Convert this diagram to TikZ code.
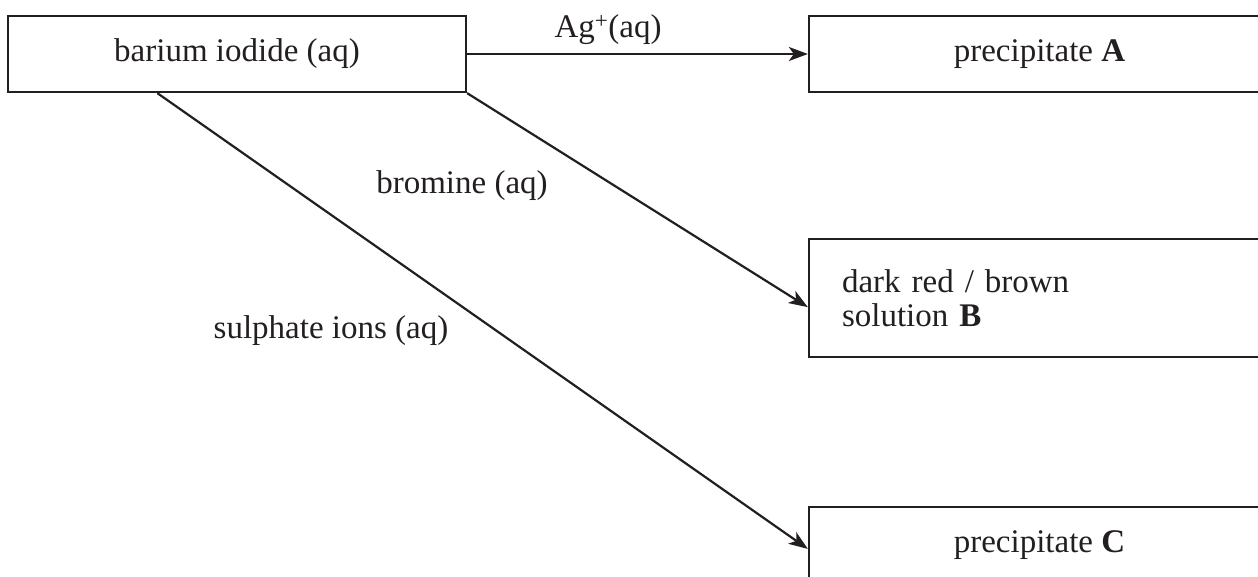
\documentclass[tikz,border=0pt]{standalone}
\usepackage{fontspec}
\setmainfont{Liberation Serif}
\usetikzlibrary{arrows.meta,calc}
\definecolor{ink}{HTML}{231F20}
\begin{document}
\begin{tikzpicture}[x=1pt,y=-1pt,
  every node/.style={font=\fontsize{33}{34}\selectfont, text=ink},
  box/.style={draw=ink, line width=2.3pt, inner sep=0pt},
  arr/.style={draw=ink, line width=2.2pt, -{Stealth[length=19pt,width=14pt,inset=5pt]}},
  lbl/.style={inner sep=0pt, anchor=center}]
\useasboundingbox (0,0) rectangle (1258,577);
\clip (0,0) rectangle (1258,577);
\node[box, minimum width=458pt, minimum height=76pt] (src) at (237,54) {barium iodide (aq)};
\node[box, minimum width=461pt, minimum height=76pt] (A) at (1039.5,54) {precipitate \textbf{A}};
\node[box, minimum width=461pt, minimum height=118pt, text width=395pt, align=left, inner xsep=33pt] (B) at (1039.5,298) {dark red / brown\\solution \textbf{B}};
\node[box, minimum width=461pt, minimum height=76pt] (C) at (1039.5,545) {precipitate \textbf{C}};
\node[lbl] (l1) at (608,30) {Ag\textsuperscript{+}(aq)};
\node[lbl] (l2) at (462,186) {bromine (aq)};
\node[lbl] (l3) at (331,331) {sulphate ions (aq)};
\draw[arr] (src.east) -- (A.west);
\draw[arr] (src.south east) -- ($(B.north west)!0.576!(B.south west)$);
\draw[arr] ($(src.south west)!0.327!(src.south east)$) -- ($(C.north west)!0.55!(C.south west)$);
\end{tikzpicture}
\end{document}
